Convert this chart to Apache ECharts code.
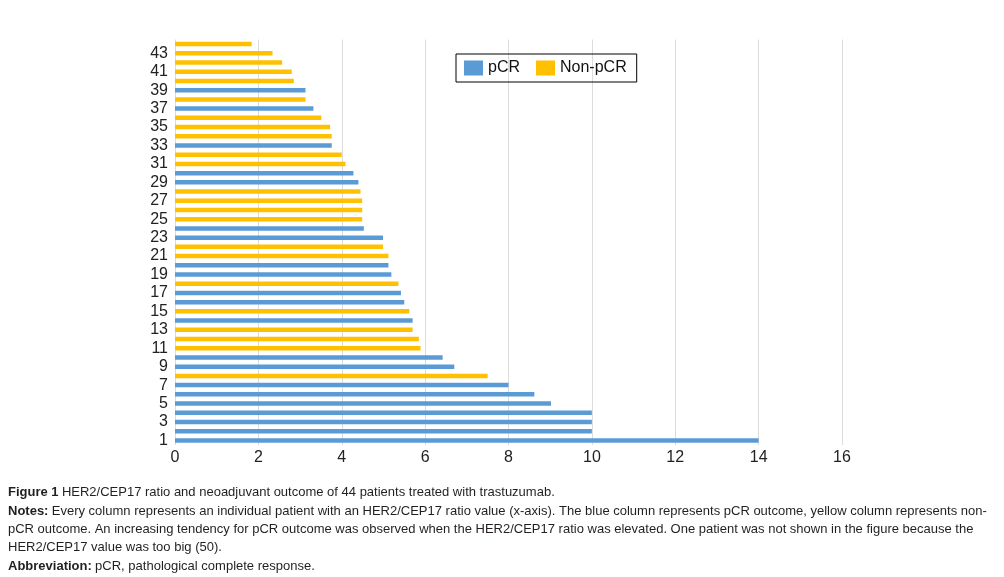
<!DOCTYPE html>
<html>
<head>
<meta charset="utf-8">
<script src="https://cdn.jsdelivr.net/npm/echarts@6/dist/echarts.min.js"></script>
<style>html,body{margin:0;padding:0;background:#fff;}#c{width:1004px;height:577px;}</style>
</head>
<body>
<div id="c"></div>
<script>
var categories = [];
for (var i = 1; i <= 44; i++) categories.push(String(i));
var ratios = [14, 10, 10, 10, 9.02, 8.62, 8.0, 7.5, 6.7, 6.42,
  5.89, 5.85, 5.7, 5.7, 5.62, 5.5, 5.42, 5.36, 5.19, 5.12,
  5.12, 4.99, 4.99, 4.53, 4.49, 4.49, 4.49, 4.45, 4.4, 4.28,
  4.09, 4.0, 3.76, 3.76, 3.72, 3.51, 3.32, 3.13, 3.13, 2.85,
  2.8, 2.57, 2.34, 1.84];
// 1 = pCR, 0 = Non-pCR
var outcome = [1,1,1,1,1,1,1,0,1,1,
  0,0,0,1,0,1,1,0,1,1,
  0,0,1,1,0,0,0,0,1,1,
  0,0,1,0,0,0,1,0,1,0,
  0,0,0,0];
var xTicks = [0, 16, 2];
var seriesNames = ['pCR', 'Non-pCR'];

var pcrData = ratios.map(function (v, i) { return outcome[i] === 1 ? v : null; });
var nonData = ratios.map(function (v, i) { return outcome[i] === 0 ? v : null; });

var chart = echarts.init(document.getElementById('c'));
var font = 'Liberation Sans, Arial, sans-serif';
var fs = 13;
var rich = {
  b: { fontWeight: 'bold', fontSize: fs, fontFamily: font, fill: '#231f20' },
  n: { fontSize: fs, fontFamily: font, fill: '#231f20' }
};
chart.setOption({
  animation: false,
  textStyle: { fontFamily: font },
  grid: { left: 175, right: 162, top: 39.5, bottom: 132, containLabel: false },
  legend: {
    left: 456, top: 54, width: 180, height: 28,
    itemWidth: 19, itemHeight: 15, itemGap: 16,
    padding: [6, 10, 6, 8],
    borderColor: '#000', borderWidth: 1,
    icon: 'rect',
    textStyle: { fontSize: 16, color: '#111', fontFamily: font },
    data: seriesNames
  },
  xAxis: {
    type: 'value', min: xTicks[0], max: xTicks[1], interval: xTicks[2],
    axisLine: { show: false }, axisTick: { show: false },
    axisLabel: { fontSize: 16, color: '#222', margin: 5, fontFamily: font },
    splitLine: { show: true, lineStyle: { color: '#dcdcdc', width: 1 } }
  },
  yAxis: {
    type: 'category', data: categories,
    axisLine: { show: false }, axisTick: { show: false },
    axisLabel: { fontSize: 16, color: '#222', interval: 1, margin: 7, fontFamily: font },
    splitLine: { show: false }
  },
  series: [
    { name: seriesNames[0], type: 'bar', data: pcrData, barWidth: 4.5, barGap: '-100%',
      itemStyle: { color: '#5b9bd5' } },
    { name: seriesNames[1], type: 'bar', data: nonData, barWidth: 4.5, barGap: '-100%',
      itemStyle: { color: '#ffc000' } }
  ],
  graphic: [
    { type: 'text', left: 8, top: 486, style: { rich: rich,
      text: '{b|Figure 1} {n|HER2/CEP17 ratio and neoadjuvant outcome of 44 patients treated with trastuzumab.}' } },
    { type: 'text', left: 8, top: 505, style: { rich: rich,
      text: '{b|Notes:} {n|Every column represents an individual patient with an HER2/CEP17 ratio value (x-axis). The blue column represents pCR outcome, yellow column represents non-}' } },
    { type: 'text', left: 8, top: 523, style: { rich: rich,
      text: '{n|pCR outcome. An increasing tendency for pCR outcome was observed when the HER2/CEP17 ratio was elevated. One patient was not shown in the figure because the}' } },
    { type: 'text', left: 8, top: 541, style: { rich: rich,
      text: '{n|HER2/CEP17 value was too big (50).}' } },
    { type: 'text', left: 8, top: 560, style: { rich: rich,
      text: '{b|Abbreviation:} {n|pCR, pathological complete response.}' } }
  ]
});
</script>
</body>
</html>
